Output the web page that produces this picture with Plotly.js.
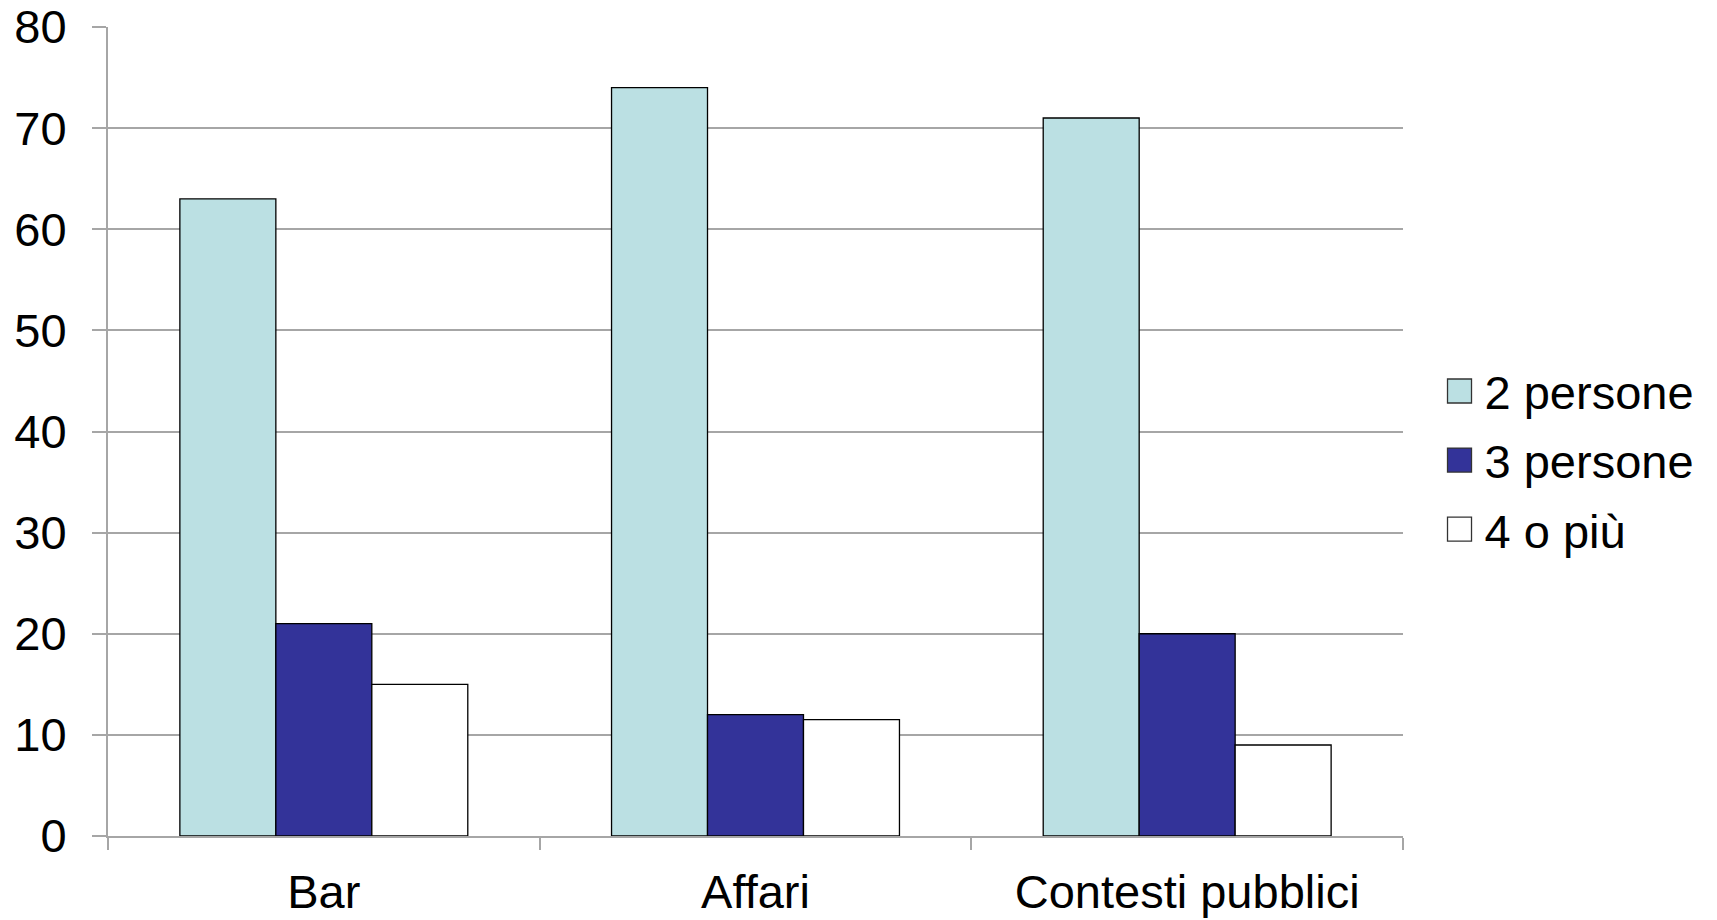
<!DOCTYPE html>
<html>
<head>
<meta charset="utf-8">
<script src="https://cdn.plot.ly/plotly-3.0.1.min.js"></script>
<style>
html,body{margin:0;padding:0;background:#fff;}
#chart{width:1717px;height:920px;}
</style>
</head>
<body>
<div id="chart"></div>
<script>
const categories = ["Bar", "Affari", "Contesti pubblici"];
const seriesNames = ["2 persone", "3 persone", "4 o più"];
const due = [63, 74, 71];
const tre = [21, 12, 20];
const quattro = [15, 11.5, 9];
const yTicks = [0, 10, 20, 30, 40, 50, 60, 70, 80];

const colors = ["#BBE0E3", "#333399", "#FFFFFF"];
const values = [due, tre, quattro];

const traces = values.map((v, i) => ({
  type: "bar",
  name: seriesNames[i],
  x: categories,
  y: v,
  legendgroup: "g" + i,
  marker: {color: colors[i], line: {color: "#000000", width: 1.3}},
  hoverinfo: "x+y+name"
}));

const font = {family: "Arial, 'Liberation Sans', sans-serif", size: 47, color: "#000"};

const layout = {
  width: 1717, height: 920,
  margin: {l: 108, r: 314, t: 27, b: 84},
  paper_bgcolor: "#fff", plot_bgcolor: "#fff",
  font: font,
  barmode: "group",
  bargap: 0.333, bargroupgap: 0,
  showlegend: true,
  legend: {
    xref: "container", yref: "container",
    x: 0.8413, xanchor: "left", y: 0.4995, yanchor: "middle",
    font: font, tracegroupgap: 5, bgcolor: "rgba(0,0,0,0)"
  },
  xaxis: {
    type: "category",
    showgrid: false, zeroline: false,
    showline: true, linecolor: "#a6a6a6", linewidth: 2,
    ticks: "outside", tickson: "boundaries", ticklen: 12, tickcolor: "#a6a6a6", tickwidth: 2,
    ticklabelstandoff: 14,
    tickfont: font
  },
  yaxis: {
    range: [0, 80], tickvals: yTicks,
    showgrid: true, gridcolor: "#a6a6a6", gridwidth: 2,
    zeroline: false,
    showline: true, linecolor: "#a6a6a6", linewidth: 2,
    ticks: "outside", ticklen: 14, tickcolor: "#a6a6a6", tickwidth: 2,
    ticklabelstandoff: 16,
    tickfont: font
  }
};

Plotly.newPlot("chart", traces, layout, {displayModeBar: false, staticPlot: true}).then(() => {
  document.querySelectorAll(".legend .legendpoints path").forEach(p => {
    p.setAttribute("d", "M7,12H-17V-12H7Z");
    p.style.strokeWidth = "1.3px";
    p.style.stroke = "#333";
  });
});
</script>
</body>
</html>
